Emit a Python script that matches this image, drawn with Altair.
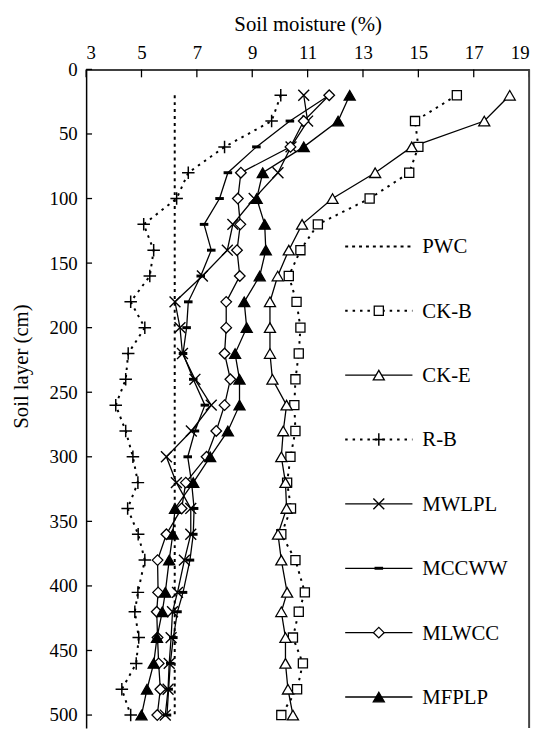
import altair as alt
import pandas as pd

# ---------------- data ----------------
depth = [20, 40, 60, 80, 100, 120, 140, 160, 180, 200, 220, 240, 260,
         280, 300, 320, 340, 360, 380, 405, 420, 440, 460, 480, 500]

pwc_depth = [20, 500]
pwc = [6.2, 6.2]

ck_b = [16.39, 14.88, 15.0, 14.67, 13.24, 11.37, 10.74, 10.32, 10.6, 10.74, 10.68, 10.56, 10.52,
        10.56, 10.38, 10.26, 10.4, 10.05, 10.56, 10.9, 10.68, 10.47, 10.83, 10.62, 10.05]
ck_e = [18.3, 17.38, 14.76, 13.44, 11.9, 10.8, 10.32, 9.92, 9.64, 9.64, 9.64, 9.73, 10.24,
        10.12, 10.05, 10.2, 10.24, 9.93, 10.05, 10.26, 10.05, 10.2, 10.2, 10.29, 10.47]
r_b = [10.03, 9.7, 8.0, 6.69, 6.27, 5.08, 5.44, 5.3, 4.61, 5.12, 4.52, 4.43, 4.07,
       4.43, 4.69, 4.87, 4.5, 4.88, 5.12, 4.87, 4.76, 4.9, 4.81, 4.29, 4.61]
mwlpl = [10.86, 11.0, 10.4, 9.93, 9.07, 8.3, 8.1, 7.2, 6.21, 6.39, 6.48, 6.93, 7.52,
         6.8, 5.9, 6.26, 6.78, 6.78, 6.55, 6.3, 6.12, 6.07, 6.0, 5.96, 5.86]
mccww = [11.78, 10.36, 9.15, 8.12, 7.82, 7.26, 7.52, 7.14, 6.69, 6.63, 6.5, 6.87, 7.29,
         6.93, 6.67, 6.81, 6.9, 6.87, 6.75, 6.5, 6.3, 6.15, 6.04, 5.98, 5.92]
mlwcc = [11.78, 10.86, 10.38, 8.59, 8.48, 8.57, 8.45, 8.55, 8.06, 8.06, 8.0, 8.21, 8.0,
         7.7, 7.35, 6.6, 6.45, 5.9, 5.58, 5.6, 5.55, 5.58, 5.62, 5.68, 5.57]
mfplp = [12.52, 12.1, 10.86, 9.38, 9.16, 9.45, 9.49, 9.27, 8.71, 8.8, 8.38, 8.54, 8.54,
         8.12, 7.48, 6.87, 6.21, 6.13, 6.0, 5.86, 5.75, 5.56, 5.44, 5.2, 5.0]

series_names = ["PWC", "CK-B", "CK-E", "R-B", "MWLPL", "MCCWW", "MLWCC", "MFPLP"]
x_ticks = [3, 5, 7, 9, 11, 13, 15, 17, 19]
y_ticks = [0, 50, 100, 150, 200, 250, 300, 350, 400, 450, 500]

series_values = {
    "PWC": (pwc_depth, pwc), "CK-B": (depth, ck_b), "CK-E": (depth, ck_e),
    "R-B": (depth, r_b), "MWLPL": (depth, mwlpl), "MCCWW": (depth, mccww),
    "MLWCC": (depth, mlwcc), "MFPLP": (depth, mfplp),
}

# ---------------- styles ----------------
FONT = "Liberation Serif"
PLUS = "M-1,0H1M0,-1V1"
CROSS = "M-1,-1L1,1M-1,1L1,-1"
BAR = "M-1,0H1"
style = {
    "PWC":   dict(dash=[3, 4], lw=2.0, shape=None),
    "CK-B":  dict(dash=[2.5, 5], lw=2.0, shape="square", size=85, fill="white", sw=1.3),
    "CK-E":  dict(dash=None, lw=1.3, shape="triangle-up", size=125, fill="white", sw=1.3),
    "R-B":   dict(dash=[2.5, 5], lw=2.0, shape=PLUS, size=160, fill="white", sw=1.5),
    "MWLPL": dict(dash=None, lw=1.3, shape=CROSS, size=121, fill="white", sw=1.4),
    "MCCWW": dict(dash=None, lw=1.3, shape=BAR, size=75, fill="white", sw=3),
    "MLWCC": dict(dash=None, lw=1.3, shape="diamond", size=115, fill="white", sw=1.3),
    "MFPLP": dict(dash=None, lw=1.3, shape="triangle-up", size=125, fill="black", sw=1.3),
}

W, H = 448, 666

xscale = alt.Scale(domain=[3, 19], nice=False, zero=False)
yscale = alt.Scale(domain=[0, 510], reverse=True, nice=False, zero=False)
xaxis = alt.Axis(orient="top", values=x_ticks, tickSize=0, labelPadding=7, grid=False,
                 labelFont=FONT, labelFontSize=19, labelColor="black",
                 domainColor="black", domainWidth=1.5,
                 title="Soil moisture (%)", titleFont=FONT, titleFontSize=21,
                 titleFontWeight="normal", titleColor="black", titlePadding=9)
yaxis = alt.Axis(orient="left", values=y_ticks, tickSize=0, labelPadding=9, grid=False,
                 labelFont=FONT, labelFontSize=19, labelColor="black",
                 domainColor="black", domainWidth=1.5,
                 title="Soil layer (cm)", titleFont=FONT, titleFontSize=21,
                 titleFontWeight="normal", titleColor="black",
                 titleX=-65, titleY=300, titleAngle=270, titleAlign="center",
                 titleBaseline="middle")


def X():
    return alt.X("moisture:Q", scale=xscale, axis=xaxis)


def Y():
    return alt.Y("depth:Q", scale=yscale, axis=yaxis)


layers = []

# inward ticks
xt = pd.DataFrame({"moisture": x_ticks})
layers.append(alt.Chart(xt).mark_rule(color="black", strokeWidth=1.3).encode(
    x=X(), y=alt.value(0), y2=alt.value(8)))
yt = pd.DataFrame({"depth": y_ticks})
layers.append(alt.Chart(yt).mark_rule(color="black", strokeWidth=1.3).encode(
    y=Y(), x=alt.value(0), x2=alt.value(6)))
# right frame
layers.append(alt.Chart(pd.DataFrame({"k": [0]})).mark_rule(color="#444", strokeWidth=2).encode(
    x=alt.value(W), y=alt.value(0), y2=alt.value(H)))

# series lines
for name in series_names:
    deps, vals = series_values[name]
    d = pd.DataFrame({"depth": deps, "moisture": vals, "series": name})
    st = style[name]
    kw = dict(color="black", strokeWidth=st["lw"])
    if st["dash"]:
        kw["strokeDash"] = st["dash"]
    layers.append(alt.Chart(d).mark_line(**kw).encode(
        x=X(), y=Y(), order=alt.Order("depth:Q")))

# series markers
for name in series_names:
    st = style[name]
    if st["shape"] is None:
        continue
    deps, vals = series_values[name]
    d = pd.DataFrame({"depth": deps, "moisture": vals, "series": name})
    layers.append(alt.Chart(d).mark_point(
        shape=st["shape"], size=st["size"], filled=True, fill=st["fill"],
        stroke="black", strokeWidth=st["sw"], opacity=1).encode(x=X(), y=Y()))

# manual legend inside the plot
for i, name in enumerate(series_names):
    st = style[name]
    ly = 179 + 65.1 * i
    ld = pd.DataFrame({"series": [name]})
    kw = dict(color="black", strokeWidth=st["lw"])
    if st["dash"]:
        kw["strokeDash"] = st["dash"]
    layers.append(alt.Chart(ld).mark_rule(**kw).encode(
        x=alt.value(262), x2=alt.value(330), y=alt.value(ly)))
    if st["shape"] is not None:
        layers.append(alt.Chart(ld).mark_point(
            shape=st["shape"], size=st["size"], filled=True, fill=st["fill"],
            stroke="black", strokeWidth=st["sw"], opacity=1).encode(
            x=alt.value(296), y=alt.value(ly)))
    layers.append(alt.Chart(ld).mark_text(
        align="left", baseline="middle", font=FONT, fontSize=21, color="black", dy=1).encode(
        x=alt.value(340), y=alt.value(ly), text="series:N"))

chart = alt.layer(*layers).properties(
    width=W, height=H,
    padding={"left": 79, "top": 58, "right": 10, "bottom": 2},
    autosize=alt.AutoSizeParams(type="none"),
).configure_view(strokeWidth=0)

chart.save("out.html", embed_options={"renderer": "svg", "actions": False})
